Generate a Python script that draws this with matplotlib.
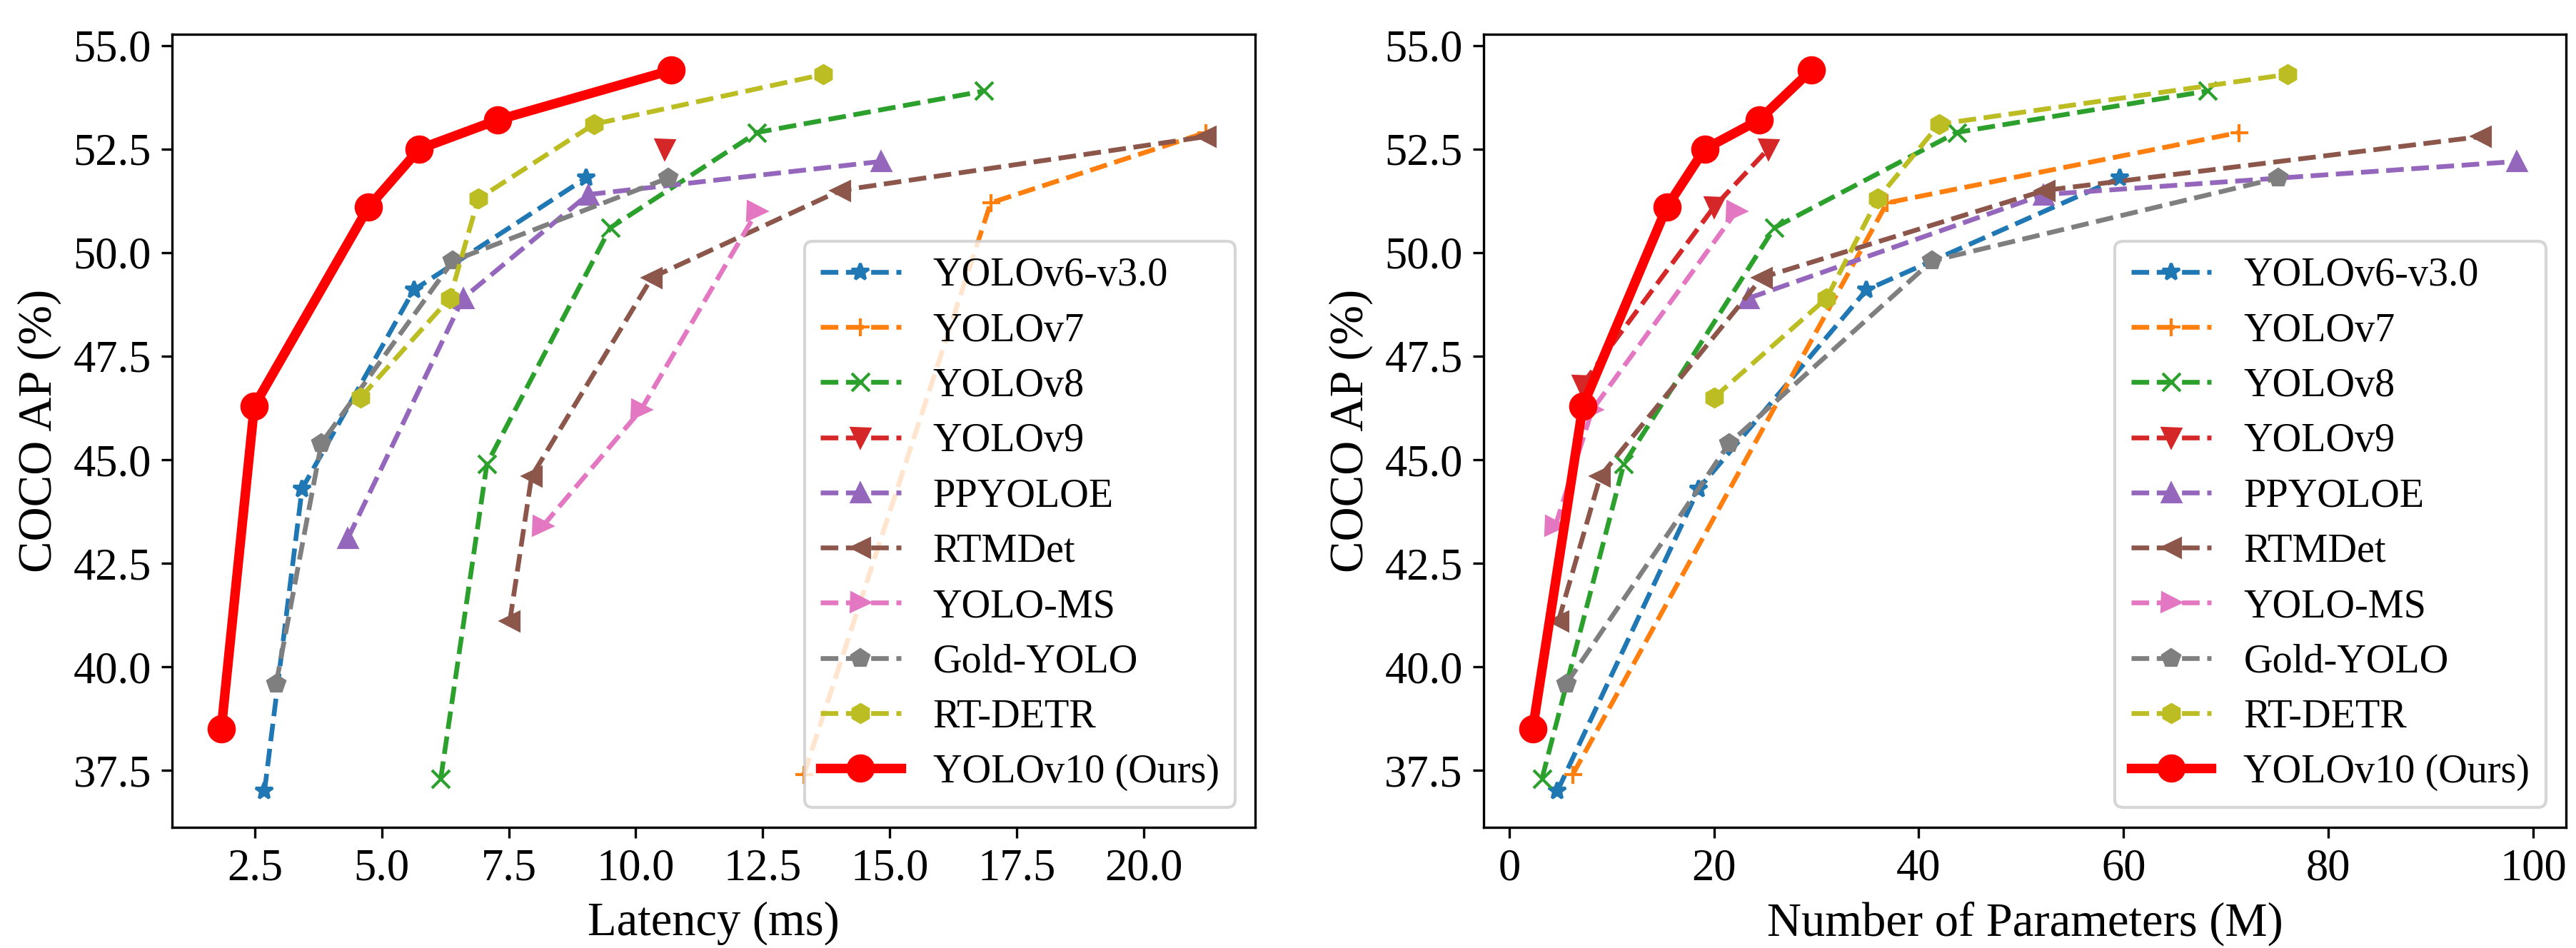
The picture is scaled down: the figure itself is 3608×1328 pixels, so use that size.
import matplotlib
matplotlib.use("Agg")
import matplotlib.pyplot as plt
from matplotlib.ticker import MultipleLocator

plt.rcParams['font.family'] = 'serif'
plt.rcParams['font.serif'] = ['Liberation Serif', 'DejaVu Serif']
plt.rcParams['font.size'] = 15

# model names, markers and colours in legend order
names = ['YOLOv6-v3.0', 'YOLOv7', 'YOLOv8', 'YOLOv9', 'PPYOLOE', 'RTMDet',
         'YOLO-MS', 'Gold-YOLO', 'RT-DETR', 'YOLOv10 (Ours)']
markers = ['*', '+', 'x', 'v', '^', '<', '>', 'p', 'h', 'o']
colors = ['C0', 'C1', 'C2', 'C3', 'C4', 'C5', 'C6', 'C7', 'C8', 'red']

# latency (ms) vs AP
lat_yolov6 = [2.69, 3.43, 5.63, 9.02]
ap_lat_yolov6 = [37.0, 44.3, 49.1, 51.8]
lat_yolov7 = [13.31, 16.99, 21.23]
ap_lat_yolov7 = [37.4, 51.2, 52.9]
lat_yolov8 = [6.16, 7.07, 9.50, 12.39, 16.86]
ap_lat_yolov8 = [37.3, 44.9, 50.6, 52.9, 53.9]
lat_yolov9 = [10.57]
ap_lat_yolov9 = [52.5]
lat_ppyoloe = [4.33, 6.60, 9.06, 14.83]
ap_lat_ppyoloe = [43.1, 48.9, 51.4, 52.2]
lat_rtmdet = [7.52, 7.95, 10.32, 14.03, 21.23]
ap_lat_rtmdet = [41.1, 44.6, 49.4, 51.5, 52.8]
lat_yoloms = [8.17, 10.10, 12.39]
ap_lat_yoloms = [43.4, 46.2, 51.0]
lat_gold = [2.92, 3.81, 6.40, 10.64]
ap_lat_gold = [39.6, 45.4, 49.8, 51.8]
lat_rtdetr = [4.58, 6.34, 6.90, 9.18, 13.69]
ap_lat_rtdetr = [46.5, 48.9, 51.3, 53.1, 54.3]
lat_yolov10 = [1.84, 2.49, 4.74, 5.74, 7.28, 10.70]
ap_lat_yolov10 = [38.5, 46.3, 51.1, 52.5, 53.2, 54.4]

# parameters (M) vs AP
par_yolov6 = [4.7, 18.5, 34.9, 59.6]
ap_par_yolov6 = [37.0, 44.3, 49.1, 51.8]
par_yolov7 = [6.2, 36.9, 71.3]
ap_par_yolov7 = [37.4, 51.2, 52.9]
par_yolov8 = [3.2, 11.2, 25.9, 43.7, 68.2]
ap_par_yolov8 = [37.3, 44.9, 50.6, 52.9, 53.9]
par_yolov9 = [7.1, 20.0, 25.3]
ap_par_yolov9 = [46.8, 51.1, 52.5]
par_ppyoloe = [23.4, 52.2, 98.4]
ap_par_ppyoloe = [48.9, 51.4, 52.2]
par_rtmdet = [4.8, 8.9, 24.7, 52.3, 94.9]
ap_par_rtmdet = [41.1, 44.6, 49.4, 51.5, 52.8]
par_yoloms = [4.5, 8.1, 22.2]
ap_par_yoloms = [43.4, 46.2, 51.0]
par_gold = [5.6, 21.5, 41.3, 75.1]
ap_par_gold = [39.6, 45.4, 49.8, 51.8]
par_rtdetr = [20.0, 31.0, 36.0, 42.0, 76.0]
ap_par_rtdetr = [46.5, 48.9, 51.3, 53.1, 54.3]
par_yolov10 = [2.3, 7.2, 15.4, 19.1, 24.4, 29.5]
ap_par_yolov10 = [38.5, 46.3, 51.1, 52.5, 53.2, 54.4]

lat_series = [(lat_yolov6, ap_lat_yolov6), (lat_yolov7, ap_lat_yolov7),
              (lat_yolov8, ap_lat_yolov8), (lat_yolov9, ap_lat_yolov9),
              (lat_ppyoloe, ap_lat_ppyoloe), (lat_rtmdet, ap_lat_rtmdet),
              (lat_yoloms, ap_lat_yoloms), (lat_gold, ap_lat_gold),
              (lat_rtdetr, ap_lat_rtdetr), (lat_yolov10, ap_lat_yolov10)]
par_series = [(par_yolov6, ap_par_yolov6), (par_yolov7, ap_par_yolov7),
              (par_yolov8, ap_par_yolov8), (par_yolov9, ap_par_yolov9),
              (par_ppyoloe, ap_par_ppyoloe), (par_rtmdet, ap_par_rtmdet),
              (par_yoloms, ap_par_yoloms), (par_gold, ap_par_gold),
              (par_rtdetr, ap_par_rtdetr), (par_yolov10, ap_par_yolov10)]


def draw(ax, series, xlabel):
  for i, (x, y) in enumerate(series):
    if names[i].startswith('YOLOv10'):
      ax.plot(x, y, '-', marker=markers[i], color=colors[i], lw=3.2,
              markersize=8.5, label=names[i])
    else:
      ax.plot(x, y, '--', marker=markers[i], color=colors[i], lw=1.6,
              markersize=6, label=names[i])
  ax.set_xlabel(xlabel, fontsize=16)
  ax.set_ylabel("COCO AP (%)", fontsize=16)
  ax.yaxis.set_major_locator(MultipleLocator(2.5))
  ax.legend(loc='lower right', fontsize=13.5, labelspacing=0.45)


fig = plt.figure(figsize=(3608 / 300, 1328 / 300), dpi=300)
ax1 = fig.add_axes([0.0668, 0.1273, 0.4205, 0.8366])
ax2 = fig.add_axes([0.5759, 0.1273, 0.4202, 0.8366])
draw(ax1, lat_series, "Latency (ms)")
ax1.xaxis.set_major_locator(MultipleLocator(2.5))
draw(ax2, par_series, "Number of Parameters (M)")

fig.savefig("out.png", dpi=300)
